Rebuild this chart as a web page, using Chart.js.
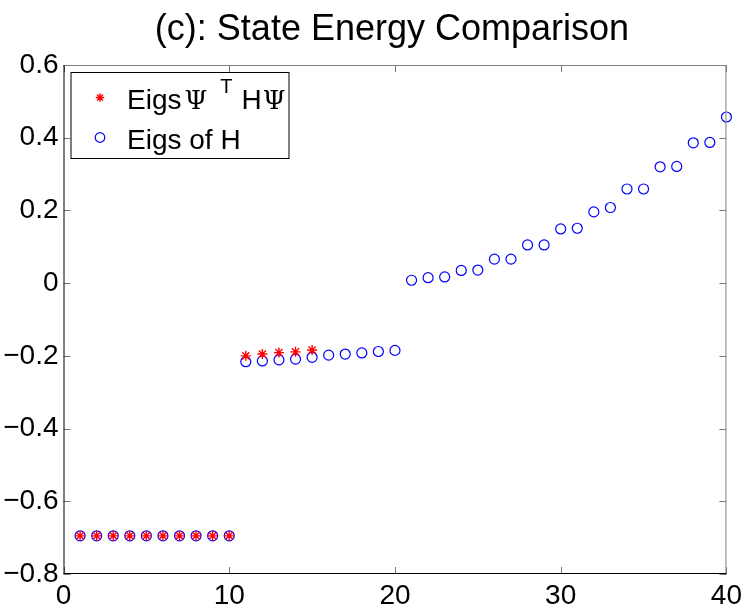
<!DOCTYPE html>
<html>
<head>
<meta charset="utf-8">
<script src="https://cdn.jsdelivr.net/npm/chart.js@4"></script>
<style>
  html, body { margin: 0; padding: 0; background: #fff; }
  #wrap { width: 747px; height: 608px; }
</style>
</head>
<body>
<div id="wrap"><canvas id="myChart"></canvas></div>
<script>
// eigenvalue index 1..40
const stateIndex = [];
for (let i = 1; i <= 40; i++) stateIndex.push(i);

// Eigs of Psi^T H Psi (first 15 states)
const eigsPsi = [-0.695, -0.695, -0.695, -0.695, -0.695, -0.695, -0.695, -0.695, -0.695, -0.695,
  -0.200, -0.195, -0.191, -0.189, -0.184];

// Eigs of H
const eigsH = [-0.695, -0.695, -0.695, -0.695, -0.695, -0.695, -0.695, -0.695, -0.695, -0.695,
  -0.216, -0.214, -0.211, -0.209, -0.204, -0.198, -0.195, -0.192, -0.188, -0.185,
  0.008, 0.015, 0.017, 0.035, 0.036, 0.066, 0.066, 0.105, 0.105, 0.149,
  0.151, 0.196, 0.208, 0.259, 0.259, 0.320, 0.321, 0.386, 0.387, 0.457];

const xTicks = [0, 10, 20, 30, 40];
const yTicks = [-0.8, -0.6, -0.4, -0.2, 0, 0.2, 0.4, 0.6];

const FONT = "'Liberation Sans', Arial, Helvetica, sans-serif";
const SERIF = "'DejaVu Serif', 'Liberation Serif', serif";

function pts(vals) {
  return vals.map((v, i) => ({ x: stateIndex[i], y: v }));
}

// matlab style box with inward ticks, title and legend
const boxPlugin = {
  id: 'box',
  afterDatasetsDraw(chart) {
    const { ctx, chartArea: a, scales } = chart;
    const len = 7;
    ctx.save();
    ctx.lineWidth = 1;
    ctx.strokeStyle = '#777';
    xTicks.forEach(t => {
      const px = Math.round(scales.x.getPixelForValue(t)) + 0.5;
      ctx.beginPath();
      ctx.moveTo(px, a.bottom); ctx.lineTo(px, a.bottom - len);
      ctx.moveTo(px, a.top); ctx.lineTo(px, a.top + len);
      ctx.stroke();
    });
    yTicks.forEach(t => {
      const py = Math.round(scales.y.getPixelForValue(t)) + 0.5;
      ctx.beginPath();
      ctx.moveTo(a.left, py); ctx.lineTo(a.left + len, py);
      ctx.moveTo(a.right, py); ctx.lineTo(a.right - len, py);
      ctx.stroke();
    });
    ctx.strokeStyle = '#808080';
    ctx.beginPath();
    ctx.moveTo(a.left, a.top + 0.5); ctx.lineTo(a.right, a.top + 0.5);
    ctx.moveTo(a.right - 0.5, a.top); ctx.lineTo(a.right - 0.5, a.bottom);
    ctx.stroke();
    ctx.strokeStyle = '#000';
    ctx.beginPath();
    ctx.moveTo(a.left + 0.5, a.top); ctx.lineTo(a.left + 0.5, a.bottom);
    ctx.moveTo(a.left, a.bottom - 0.5); ctx.lineTo(a.right, a.bottom - 0.5);
    ctx.stroke();
    ctx.restore();
  },
  afterDraw(chart) {
    const { ctx, chartArea: a } = chart;
    ctx.save();
    // title
    ctx.fillStyle = '#000';
    ctx.font = '36px ' + FONT;
    ctx.textAlign = 'center';
    ctx.textBaseline = 'alphabetic';
    ctx.fillText('(c): State Energy Comparison', (a.left + a.right) / 2 - 3, 40);
    ctx.textAlign = 'left';

    // legend
    const lx = a.left + 7.5, ly = a.top + 7.5, lw = 218, lh = 86;
    ctx.fillStyle = '#fff';
    ctx.fillRect(lx, ly, lw, lh);
    ctx.strokeStyle = '#000';
    ctx.lineWidth = 1;
    ctx.strokeRect(lx, ly, lw, lh);

    const mx = lx + 29;
    ctx.strokeStyle = 'red';
    ctx.lineWidth = 1.4;
    const sy = ly + 25, r = 4.2;
    ctx.beginPath();
    ctx.moveTo(mx - r, sy); ctx.lineTo(mx + r, sy);
    ctx.moveTo(mx, sy - r); ctx.lineTo(mx, sy + r);
    const d = r * 0.707;
    ctx.moveTo(mx - d, sy - d); ctx.lineTo(mx + d, sy + d);
    ctx.moveTo(mx - d, sy + d); ctx.lineTo(mx + d, sy - d);
    ctx.stroke();
    ctx.strokeStyle = 'blue';
    ctx.lineWidth = 1.2;
    ctx.beginPath();
    ctx.arc(mx, ly + 65, 4.8, 0, Math.PI * 2);
    ctx.stroke();

    ctx.fillStyle = '#000';
    let tx = lx + 56;
    const b1 = ly + 36, b2 = ly + 76;
    ctx.font = '28px ' + FONT;
    ctx.fillText('Eigs', tx, b1);
    tx += ctx.measureText('Eigs').width + 3;
    ctx.font = '26px ' + SERIF;
    ctx.fillText('\u03A8', tx, b1);
    tx += ctx.measureText('\u03A8').width + 13;
    ctx.font = '20px ' + FONT;
    ctx.fillText('T', tx, b1 - 16);
    tx += ctx.measureText('T').width + 9;
    ctx.font = '28px ' + FONT;
    ctx.fillText('H', tx, b1);
    tx += ctx.measureText('H').width + 1;
    ctx.font = '26px ' + SERIF;
    ctx.fillText('\u03A8', tx, b1);

    ctx.font = '28px ' + FONT;
    ctx.fillText('Eigs of H', lx + 56, b2);
    ctx.restore();
  }
};

const fmt = v => {
  const r = Math.round(v * 10) / 10;
  if (r === 0) return '0';
  return r.toString().replace('-', '\u2212');
};

const ctx = document.getElementById('myChart');
const myChart = new Chart(ctx, {
  type: 'scatter',
  data: {
    datasets: [
      {
        label: 'Eigs \u03A8T H\u03A8',
        data: pts(eigsPsi),
        pointStyle: 'star',
        pointRadius: 5,
        pointBorderColor: 'red',
        pointBackgroundColor: 'red',
        pointBorderWidth: 1.4,
        clip: false,
        order: 0,
      },
      {
        label: 'Eigs of H',
        data: pts(eigsH),
        pointStyle: 'circle',
        pointRadius: 5,
        pointBorderColor: 'blue',
        pointBackgroundColor: 'rgba(0,0,0,0)',
        pointBorderWidth: 1.2,
        clip: false,
        order: 1,
      }
    ],
  },
  options: {
    responsive: true,
    maintainAspectRatio: false,
    animation: false,
    layout: { padding: { left: 0, right: 20, top: 65, bottom: 0 } },
    plugins: {
      legend: { display: false },
      tooltip: { enabled: false },
      title: { display: false },
    },
    scales: {
      x: {
        type: 'linear',
        min: 0,
        max: 40,
        afterBuildTicks: s => { s.ticks = xTicks.map(v => ({ value: v })); },
        afterFit: s => { s.height = 34; },
        grid: { display: false, drawTicks: false },
        border: { display: false },
        ticks: {
          color: '#000',
          padding: 5,
          maxRotation: 0,
          font: { family: FONT, size: 28 },
          callback: fmt,
        },
      },
      y: {
        type: 'linear',
        min: -0.8,
        max: 0.6,
        afterBuildTicks: s => { s.ticks = yTicks.map(v => ({ value: v })); },
        afterFit: s => { s.width = 63.5; },
        grid: { display: false, drawTicks: false },
        border: { display: false },
        ticks: {
          color: '#000',
          padding: 5,
          font: { family: FONT, size: 28 },
          callback: fmt,
        },
      },
    },
  },
  plugins: [boxPlugin],
});
</script>
</body>
</html>
